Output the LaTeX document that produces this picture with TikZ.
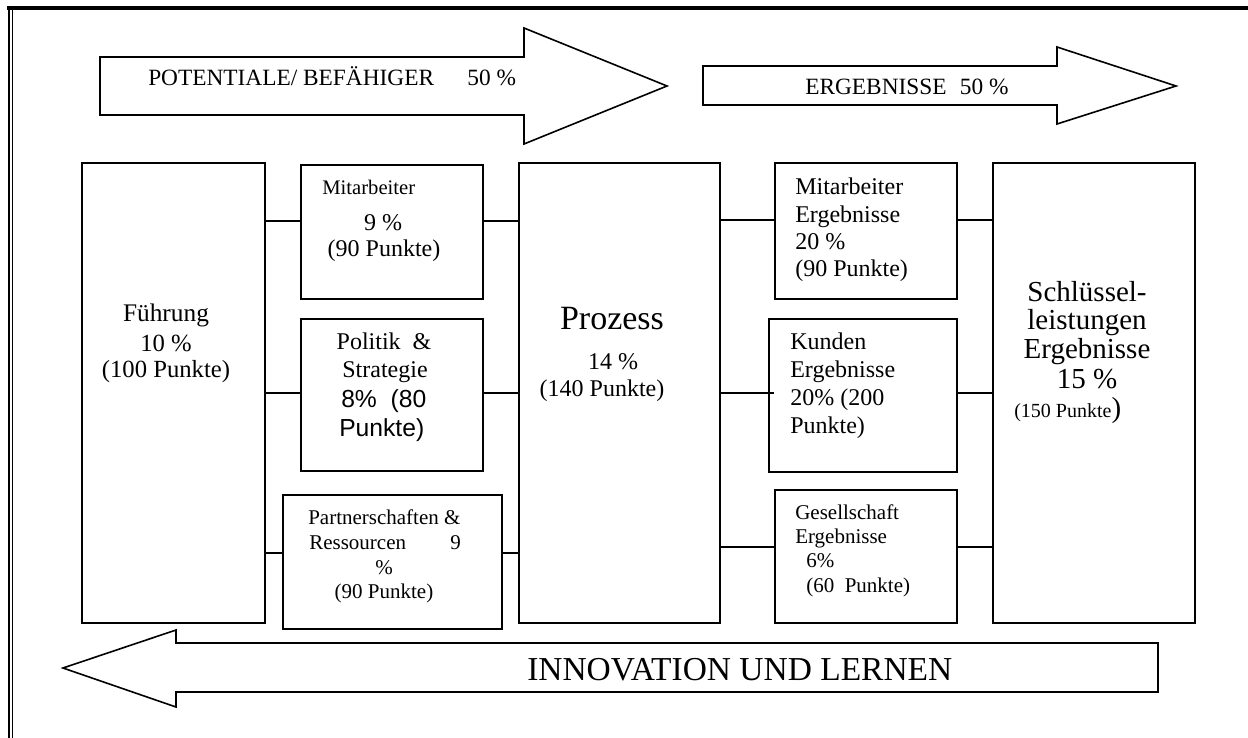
\documentclass[tikz,border=0pt]{standalone}
\usepackage{fontspec}
\setmainfont{Liberation Serif}
\newfontfamily\arialfont{Liberation Sans}
% font size in pt, single-line use
\newcommand\fsz[1]{\fontsize{#1}{#1}\selectfont}
% rectangle node spanning (x1,y1)-(x2,y2) in pixel units
\newcommand\boxnode[5]{\node[box, minimum width={(#4-#2)*0.75pt}, minimum height={(#5-#3)*0.75pt}] (#1) at ({(#2+#4)/2},{(#3+#5)/2}) {};}
\begin{document}
\begin{tikzpicture}[x=0.75pt,y=-0.75pt,
  box/.style={draw, line width=1.5pt, inner sep=0pt, rectangle},
  link/.style={line width=1.5pt},
  bigarrow/.style={draw, line width=1.2pt, line join=miter},
  lbl/.style={inner sep=0pt, anchor=base},
  lbll/.style={inner sep=0pt, anchor=base west}]
\useasboundingbox (0,0) rectangle (1248,738);

% page frame
\draw[line width=3pt] (7,8) -- (1248,8);
\draw[line width=2.2pt] (9,6) -- (9,738);
\draw[line width=1.1pt] (12.3,9) -- (12.3,738);

% block arrows
\draw[bigarrow] (100,57) -- (524,57) -- (524,28) -- (667,86) -- (524,144) -- (524,115) -- (100,115) -- cycle;
\draw[bigarrow] (703,66) -- (1057,66) -- (1057,47) -- (1176,86) -- (1057,124) -- (1057,105) -- (703,105) -- cycle;
\draw[bigarrow] (1158,643) -- (176,643) -- (176,630) -- (63,668) -- (176,707) -- (176,692) -- (1158,692) -- cycle;

\node[lbll, font=\fsz{17.5}] (potential) at (148,86) {POTENTIALE/ BEFÄHIGER\hspace{25pt}50 \%};
\node[lbll, font=\fsz{17.5}] (ergebnis) at (805,95) {ERGEBNISSE\hspace{10pt}50 \%};
\node[lbll, font=\fsz{25.1}] (innovation) at (527,680) {INNOVATION UND LERNEN};

% boxes
\boxnode{fuehrung}{82}{163}{265}{623}
\boxnode{mitarb}{301}{165}{483}{299}
\boxnode{politik}{301}{319}{483}{471}
\boxnode{partner}{283}{495}{502}{629}
\boxnode{prozess}{519}{163}{720}{623}
\boxnode{miterg}{775}{163}{957}{299}
\boxnode{kunden}{769}{319}{957}{472}
\boxnode{gesell}{775}{490}{957}{623}
\boxnode{schluessel}{993}{163}{1195}{623}

% connector heights
\coordinate (l1) at (0,221);
\coordinate (l2) at (0,393);
\coordinate (l3) at (0,553);
\coordinate (r1) at (0,220);
\coordinate (r2) at (0,393);
\coordinate (r3) at (0,547);

\draw[link] (fuehrung.east |- l1) -- (mitarb.west |- l1);
\draw[link] (mitarb.east |- l1) -- (prozess.west |- l1);
\draw[link] (fuehrung.east |- l2) -- (politik.west |- l2);
\draw[link] (politik.east |- l2) -- (prozess.west |- l2);
\draw[link] (fuehrung.east |- l3) -- (partner.west |- l3);
\draw[link] (partner.east |- l3) -- (prozess.west |- l3);
\draw[link] (prozess.east |- r1) -- (miterg.west |- r1);
\draw[link] (miterg.east |- r1) -- (schluessel.west |- r1);
\draw[link] (prozess.east |- r2) -- ([xshift=4.5pt]kunden.west |- r2);
\draw[link] (kunden.east |- r2) -- (schluessel.west |- r2);
\draw[link] (prozess.east |- r3) -- (gesell.west |- r3);
\draw[link] (gesell.east |- r3) -- (schluessel.west |- r3);

% Führung
\node[lbl, font=\fsz{19}] (f1) at (166,321) {Führung};
\node[lbl, font=\fsz{18.5}] (f2) at (166,351) {10 \%};
\node[lbl, font=\fsz{18.5}] (f3) at (166,377) {(100 Punkte)};

% Mitarbeiter
\node[lbll, font=\fsz{15.5}] (m1) at (322,195) {Mitarbeiter};
\node[lbl, font=\fsz{18}] (m2) at (383,230) {9 \%};
\node[lbl, font=\fsz{18}] (m3) at (384,256) {(90 Punkte)};

% Politik & Strategie
\node[lbl, font=\fsz{18}] (p1) at (384,349) {Politik\ \ \&};
\node[lbl, font=\fsz{18}] (p2) at (385,377) {Strategie};
\node[lbll, font=\arialfont\fsz{18.5}] (p3) at (341,407) {8\%\ \ (80};
\node[lbll, font=\arialfont\fsz{18.5}] (p4) at (339,436) {Punkte)};

% Partnerschaften & Ressourcen
\node[lbll, font=\fsz{15.75}] (pr1) at (308,524) {Partnerschaften \&};
\node[lbll, font=\fsz{15.75}] (pr2) at (309,549) {Ressourcen};
\node[lbll, font=\fsz{15.75}] (pr3) at (450,549) {9};
\node[lbl, font=\fsz{15.75}] (pr4) at (384,574) {\%};
\node[lbl, font=\fsz{15.75}] (pr5) at (384,598) {(90 Punkte)};

% Prozess
\node[lbl, font=\fsz{25.5}] (z1) at (612,329) {Prozess};
\node[lbl, font=\fsz{18}] (z2) at (613,369) {14 \%};
\node[lbl, font=\fsz{18}] (z3) at (602,396) {(140 Punkte)};

% Mitarbeiter Ergebnisse
\node[lbll, font=\fsz{18}] (e1) at (795,194) {Mitarbeiter};
\node[lbll, font=\fsz{18}] (e2) at (795,222) {Ergebnisse};
\node[lbll, font=\fsz{18}] (e3) at (795,249) {20 \%};
\node[lbll, font=\fsz{18}] (e4) at (795,276) {(90 Punkte)};

% Kunden Ergebnisse
\node[lbll, font=\fsz{18}] (k1) at (790,349) {Kunden};
\node[lbll, font=\fsz{18}] (k2) at (790,377) {Ergebnisse};
\node[lbll, font=\fsz{18}] (k3) at (790,405) {20\% (200};
\node[lbll, font=\fsz{18}] (k4) at (790,433) {Punkte)};

% Gesellschaft Ergebnisse
\node[lbll, font=\fsz{15.75}] (g1) at (795,519) {Gesellschaft};
\node[lbll, font=\fsz{15.75}] (g2) at (795,543) {Ergebnisse};
\node[lbll, font=\fsz{15.75}] (g3) at (806,567) {6\%};
\node[lbll, font=\fsz{15.75}] (g4) at (806,592) {(60\ \ Punkte)};

% Schlüsselleistungen Ergebnisse
\node[lbl, font=\fsz{21.75}] (s1) at (1087,301) {Schlüssel-};
\node[lbl, font=\fsz{21.75}] (s2) at (1087,329) {leistungen};
\node[lbl, font=\fsz{21.75}] (s3) at (1087,358) {Ergebnisse};
\node[lbl, font=\fsz{21.75}] (s4) at (1087,388) {15 \%};
\node[lbll, font=\fsz{15}] (s5) at (1014,417) {(150 Punkte{\fsz{21.75})}};
\end{tikzpicture}
\end{document}
